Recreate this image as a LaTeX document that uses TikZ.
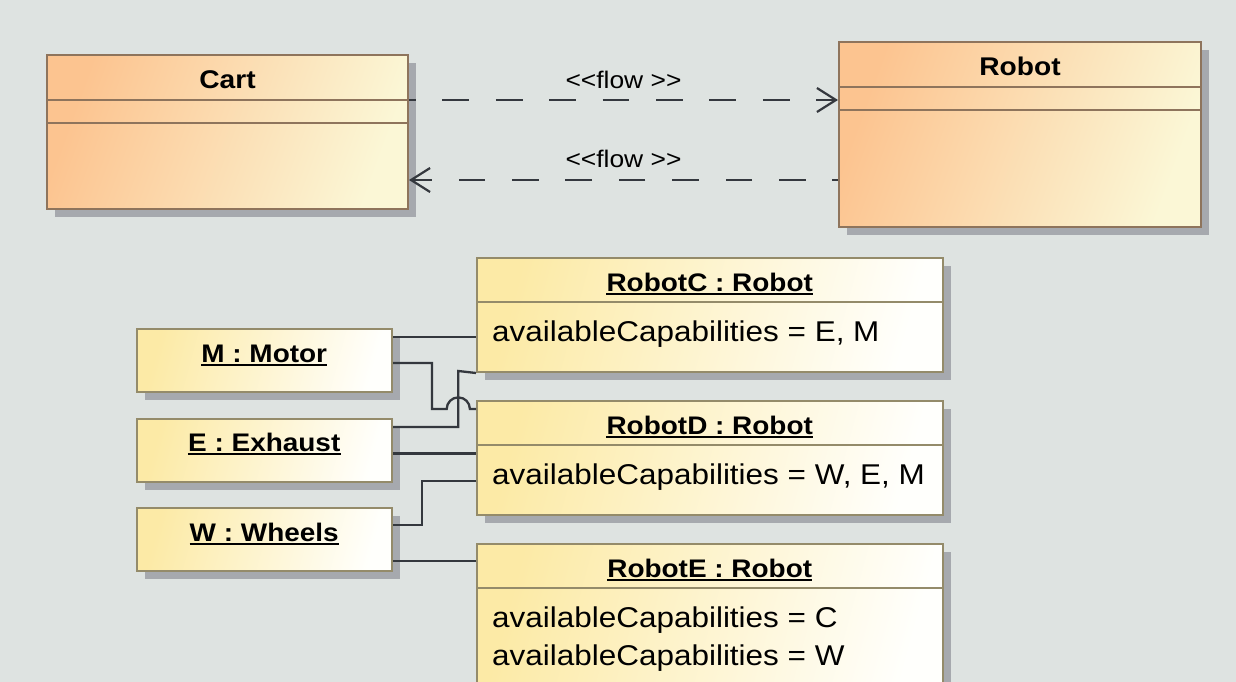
\documentclass[tikz,border=0pt]{standalone}
\usepackage{fontspec}
\setmainfont[FakeStretch=1.1]{Liberation Sans}
\usetikzlibrary{arrows.meta,calc,shadows}

\definecolor{bgcol}{RGB}{222,227,225}
\definecolor{clsleft}{RGB}{252,196,144}
\definecolor{clsright}{RGB}{251,247,214}
\definecolor{clsborder}{RGB}{142,116,92}
\definecolor{objleft}{RGB}{252,234,166}
\definecolor{objright}{RGB}{255,255,252}
\definecolor{objborder}{RGB}{148,139,106}
\definecolor{shadowcol}{RGB}{166,169,174}
\definecolor{linecol}{RGB}{52,56,62}

\begin{document}
\begin{tikzpicture}[x=1pt,y=-1pt,
  boxshadow/.style={drop shadow={shadow xshift=8pt,shadow yshift=-8pt,opacity=1,fill=shadowcol}},
  classbox/.style={rectangle,anchor=north west,inner sep=0pt,draw=clsborder,line width=2pt,
    left color=clsleft,right color=clsright,shading angle=70,boxshadow},
  objbox/.style={rectangle,anchor=north west,inner sep=0pt,draw=objborder,line width=2pt,
    left color=objleft,right color=objright,shading angle=75,boxshadow},
  clssep/.style={draw=clsborder,line width=2pt},
  objsep/.style={draw=objborder,line width=2pt},
  clstitle/.style={anchor=base,inner sep=0pt,font=\fontsize{25.6}{30}\selectfont\bfseries},
  objtitle/.style={anchor=base,inner sep=0pt,font=\fontsize{25.4}{30}\selectfont\bfseries},
  attr/.style={anchor=base west,inner sep=0pt,font=\fontsize{28.6}{34}\selectfont},
  uline/.style={draw=black,line width=1.8pt},
  flowlbl/.style={anchor=base,inner sep=0pt,font=\fontsize{24}{28}\selectfont},
  flow/.style={draw=linecol,line width=2.2pt,dash pattern=on 26.7pt off 26.7pt,
    -{Straight Barb[length=19pt,width=24pt]}},
  conn/.style={draw=linecol,line width=2.3pt}
]
\useasboundingbox (0,0) rectangle (1236,682);
\clip (0,0) rectangle (1236,682);
\fill[bgcol] (0,0) rectangle (1236,682);

% class boxes
\node[classbox,minimum width=361pt,minimum height=154pt] (cart) at (46,54) {};
\node[classbox,minimum width=362pt,minimum height=185pt] (robot) at (838,41) {};
\foreach \c in {cart,robot}{
  \draw[clssep] ($(\c.north west)+(0,46)$) -- ($(\c.north east)+(0,46)$);
  \draw[clssep] ($(\c.north west)+(0,69)$) -- ($(\c.north east)+(0,69)$);
}
\node[clstitle] (cartname) at ($(cart.north)+(0,35)$) {Cart};
\node[clstitle] (robotname) at ($(robot.north)+(0,35)$) {Robot};

% flows between the classes
\coordinate (f1) at ($(cart.north east)+(0,46)$);
\coordinate (f2) at ($(robot.north west)+(0,139)$);
\draw[flow,dash phase=20pt] (f1) -- (f1 -| robot.west)
  node[flowlbl,midway,yshift=11pt] (flowa) {<\kern0pt<flow >\kern0pt>};
\draw[flow,dash phase=21pt] (f2) -- (f2 -| cart.east)
  node[flowlbl,midway,yshift=13pt] (flowb) {<\kern0pt<flow >\kern0pt>};

% instance specifications
\node[objbox,minimum width=465.5pt,minimum height=114pt] (rc) at (476,257) {};
\node[objbox,minimum width=465.5pt,minimum height=114pt] (rd) at (476,400) {};
\node[objbox,minimum width=465.5pt,minimum height=160pt] (re) at (476,543) {};
\foreach \o in {rc,rd,re}
  \draw[objsep] ($(\o.north west)+(0,44.5)$) -- ($(\o.north east)+(0,44.5)$);

\node[objbox,minimum width=255.5pt,minimum height=63pt] (m) at (135.5,328) {};
\node[objbox,minimum width=255.5pt,minimum height=63.5pt] (e) at (135.5,417.5) {};
\node[objbox,minimum width=255.5pt,minimum height=63pt] (w) at (135.5,507) {};

\node[objtitle] (rct) at ($(rc.north)+(0,34)$) {RobotC : Robot};
\node[objtitle] (rdt) at ($(rd.north)+(0,34)$) {RobotD : Robot};
\node[objtitle] (ret) at ($(re.north)+(0,34)$) {RobotE : Robot};
\node[objtitle] (mt) at ($(m.north)+(0,34.5)$) {M : Motor};
\node[objtitle] (et) at ($(e.north)+(0,34)$) {E : Exhaust};
\node[objtitle] (wt) at ($(w.north)+(0,34)$) {W : Wheels};
\foreach \n in {rct,rdt,ret,mt,et,wt}
  \draw[uline] ($(\n.base west)+(0,2.8)$) -- ($(\n.base east)+(0,2.8)$);

\node[attr] (rca) at ($(rc.north west)+(16,84)$) {availableCapabilities = E, M};
\node[attr] (rda) at ($(rd.north west)+(16,84)$) {availableCapabilities = W, E, M};
\node[attr] (rea) at ($(re.north west)+(16,84)$) {availableCapabilities = C};
\node[attr] (reb) at ($(re.north west)+(16,122)$) {availableCapabilities = W};

% slots linking the parts to the robots
\coordinate (m1) at ($(m.north east)+(0,9)$);
\coordinate (m2) at ($(m.north east)+(0,35)$);
\coordinate (e1) at ($(e.north east)+(0,9.5)$);
\coordinate (e2) at ($(e.north east)+(0,36)$);
\coordinate (w1) at ($(w.north east)+(0,18)$);
\coordinate (w2) at ($(w.north east)+(0,54)$);
\coordinate (d1) at ($(rd.north west)+(0,9)$);
\coordinate (d3) at ($(rd.north west)+(0,81)$);

\draw[conn] (m1) -- (m1 -| rc.west);
\draw[conn] (m2) -| (432,409) -- (446.7,409) arc(180:360:11.6) -- (d1);
\draw[conn] (e1) -| (458.3,371) -- (rc.south west);
\draw[conn] (e2) -- (e2 -| rd.west);
\draw[conn] (w1) -- (422,525) |- (d3);
\draw[conn] (w2) -- (w2 -| re.west);
\end{tikzpicture}
\end{document}
